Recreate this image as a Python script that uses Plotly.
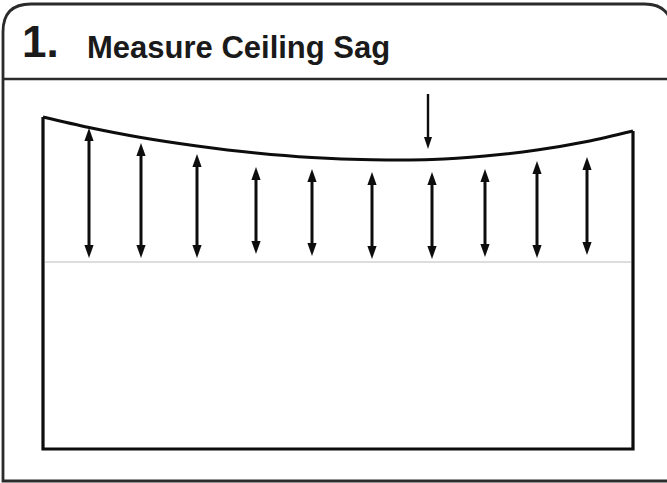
import plotly.graph_objects as go

# ---------------- data (drawing units: x to the right, y downward) ----------------
W, H = 667, 483

# sagging ceiling profile
ceiling_x = [43, 89, 141, 197, 256, 312, 372, 432, 485, 537, 587, 633]
ceiling_y = [117, 127.5, 137.5, 146, 153, 157.5, 159.7, 159.5, 156, 150, 141.5, 131]

# room walls / floor
room_left = 43
room_right = 633
floor_y = 449

# level reference line
level_y = 262
level_x = [45, 631]

# measurement arrows
arrow_x = [89, 141, 197, 256, 312, 372, 432, 485, 537, 587]
arrow_top = [128, 143, 154, 167, 169, 172, 172, 169, 161, 157]
arrow_bottom = [258, 258, 258, 254, 256, 259, 259, 257, 258, 255]

# sag indicator arrow
sag_x = 428
sag_y = [94, 149]

# frame / header
frame_left, frame_top, frame_right, frame_bottom = 3, 4, 672, 481
frame_radius = 28
header_y = 79

title_num = "1."
title_text = "Measure Ceiling Sag"

# ---------------- styles ----------------
INK = "#0d0d0d"
FRAME = "#2b2b2b"
HEAD_LEN = 13
HEAD_HALF = 4.6
SHAFT_W = 3

fig = go.Figure()

# ceiling curve
fig.add_trace(go.Scatter(x=ceiling_x, y=ceiling_y, mode="lines",
                         line=dict(color=INK, width=3, shape="spline", smoothing=0.9),
                         hoverinfo="skip", showlegend=False))

# walls + floor
fig.add_trace(go.Scatter(x=[room_left, room_left, room_right, room_right],
                         y=[ceiling_y[0], floor_y, floor_y, ceiling_y[-1]],
                         mode="lines", line=dict(color=INK, width=3.2),
                         hoverinfo="skip", showlegend=False))

# level line
fig.add_trace(go.Scatter(x=level_x, y=[level_y, level_y], mode="lines",
                         line=dict(color="#d2d2d2", width=1.3),
                         hoverinfo="skip", showlegend=False))

shapes = []


def head(x, tip, direction, half=HEAD_HALF, length=HEAD_LEN):
    # direction: -1 points up (tip above base), +1 points down
    base = tip - direction * length
    return dict(type="path", xref="x", yref="y",
                path=f"M {x},{tip} L {x-half},{base} L {x+half},{base} Z",
                fillcolor=INK, line=dict(width=0))


for x, t, b in zip(arrow_x, arrow_top, arrow_bottom):
    shapes.append(dict(type="line", xref="x", yref="y", x0=x, x1=x,
                       y0=t + HEAD_LEN - 2, y1=b - HEAD_LEN + 2,
                       line=dict(color=INK, width=SHAFT_W)))
    shapes.append(head(x, t, -1))
    shapes.append(head(x, b, +1))

# sag arrow
shapes.append(dict(type="line", xref="x", yref="y", x0=sag_x, x1=sag_x,
                   y0=sag_y[0], y1=sag_y[1] - 10,
                   line=dict(color=INK, width=2.4)))
shapes.append(head(sag_x, sag_y[1], +1, half=4, length=12))

# frame
L, T, R, B, r = frame_left, frame_top, frame_right, frame_bottom, frame_radius
shapes.append(dict(type="path", xref="x", yref="y",
                   path=(f"M {L},{B} L {L},{T+r} Q {L},{T} {L+r},{T} "
                         f"L {R-r},{T} Q {R},{T} {R},{T+r} L {R},{B} Z"),
                   line=dict(color=FRAME, width=2.8)))
shapes.append(dict(type="line", xref="x", yref="y", x0=L, x1=R,
                   y0=header_y, y1=header_y, line=dict(color=FRAME, width=2.4)))

annotations = [
    dict(x=21, y=41, xref="x", yref="y", text=f"<b>{title_num}</b>", showarrow=False,
         xanchor="left", yanchor="middle",
         font=dict(family="Liberation Sans", size=44, color="#1a1a1a"), borderpad=0),
    dict(x=86, y=47, xref="x", yref="y", text=f"<b>{title_text}</b>", showarrow=False,
         xanchor="left", yanchor="middle",
         font=dict(family="Liberation Sans", size=31, color="#1a1a1a"), borderpad=0),
]

fig.update_layout(
    width=W, height=H, autosize=False,
    margin=dict(l=0, r=0, t=0, b=0),
    paper_bgcolor="white", plot_bgcolor="white",
    xaxis=dict(range=[0, W], visible=False, fixedrange=True),
    yaxis=dict(range=[H, 0], visible=False, fixedrange=True),
    shapes=shapes, annotations=annotations,
    showlegend=False,
)

fig.write_html("out.html", config=dict(displayModeBar=False),
               post_script="document.body.style.margin='0';document.body.style.overflow='hidden';")
